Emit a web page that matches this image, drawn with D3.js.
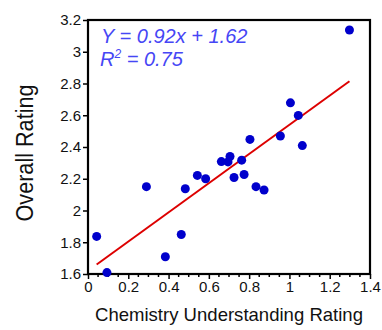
<!DOCTYPE html>
<html>
<head>
<meta charset="utf-8">
<script src="https://cdn.jsdelivr.net/npm/d3@7/dist/d3.min.js"></script>
<style>
  html, body { margin: 0; padding: 0; background: #fff; }
  svg { display: block; }
</style>
</head>
<body>
<svg id="chart" width="382" height="330"></svg>
<script>
// Chemistry understanding vs. overall rating
const chemistryRating = [0.043, 0.094, 0.29, 0.384, 0.463, 0.483, 0.543, 0.584, 0.662, 0.695, 0.705, 0.725, 0.763, 0.775, 0.804, 0.834, 0.874, 0.955, 1.005, 1.044, 1.064, 1.298];
const overallRating   = [1.837, 1.609, 2.15, 1.709, 1.849, 2.137, 2.221, 2.20, 2.308, 2.306, 2.34, 2.208, 2.317, 2.227, 2.448, 2.15, 2.129, 2.469, 2.678, 2.599, 2.409, 3.137];

// Least-squares fit as printed on the chart
const fitSlope = 0.92;
const fitIntercept = 1.62;
const fitR2 = 0.75;

const xTicks = [0, 0.2, 0.4, 0.6, 0.8, 1, 1.2, 1.4];
const yTicks = [1.6, 1.8, 2, 2.2, 2.4, 2.6, 2.8, 3, 3.2];
const xTitle = "Chemistry Understanding Rating";
const yTitle = "Overall Rating";

const svg = d3.select("#chart");
const plot = { left: 88, right: 370, top: 20, bottom: 274 };

const x = d3.scaleLinear().domain([0, 1.4]).range([plot.left, plot.right]);
const y = d3.scaleLinear().domain([1.6, 3.2]).range([plot.bottom, plot.top]);

const tickFont = "'Liberation Sans', Arial, sans-serif";

// minor ticks on the x axis
const minorTicks = d3.range(0, 1.4001, 0.05).filter(v => !xTicks.some(t => Math.abs(t - v) < 1e-6));
svg.append("g")
  .attr("transform", `translate(0,${plot.bottom})`)
  .selectAll("line").data(minorTicks).join("line")
  .attr("x1", d => x(d)).attr("x2", d => x(d))
  .attr("y1", 0).attr("y2", 3)
  .attr("stroke", "#000").attr("stroke-width", 1.5);

// x axis
const gx = svg.append("g")
  .attr("transform", `translate(0,${plot.bottom})`)
  .call(d3.axisBottom(x).tickValues(xTicks).tickSize(5).tickPadding(2).tickFormat(d3.format("~g")));
gx.select(".domain").remove();
gx.selectAll(".tick line").attr("stroke", "#000").attr("stroke-width", 1.5);
gx.selectAll(".tick text").attr("font-family", tickFont).attr("font-size", 15).attr("fill", "#111");

// y axis
const gy = svg.append("g")
  .attr("transform", `translate(${plot.left},0)`)
  .call(d3.axisLeft(y).tickValues(yTicks).tickSize(5).tickPadding(2).tickFormat(d3.format("~g")));
gy.select(".domain").remove();
gy.selectAll(".tick line").attr("stroke", "#000").attr("stroke-width", 1.5);
gy.selectAll(".tick text").attr("font-family", tickFont).attr("font-size", 15).attr("fill", "#111");

// plot frame
svg.append("rect")
  .attr("x", plot.left).attr("y", plot.top)
  .attr("width", plot.right - plot.left).attr("height", plot.bottom - plot.top)
  .attr("fill", "none").attr("stroke", "#000").attr("stroke-width", 2.2);

// regression line over the data range
const [xMin, xMax] = d3.extent(chemistryRating);
svg.append("line")
  .attr("x1", x(xMin)).attr("y1", y(fitSlope * xMin + fitIntercept))
  .attr("x2", x(xMax)).attr("y2", y(fitSlope * xMax + fitIntercept))
  .attr("stroke", "#dd0000").attr("stroke-width", 2);

// data points
svg.append("g")
  .selectAll("circle").data(chemistryRating.map((v, i) => [v, overallRating[i]])).join("circle")
  .attr("cx", d => x(d[0])).attr("cy", d => y(d[1]))
  .attr("r", 4.5).attr("fill", "#0000cc");

// fit equation
const eq = svg.append("g")
  .attr("font-family", "'Comic Sans MS', 'Liberation Sans', Arial, sans-serif")
  .attr("font-style", "italic").attr("font-size", 20).attr("fill", "#4646f5");
eq.append("text").attr("x", 101).attr("y", 43)
  .text(`Y = ${fitSlope}x + ${fitIntercept}`);
const r2 = eq.append("text").attr("x", 100).attr("y", 66);
r2.append("tspan").text("R");
r2.append("tspan").attr("font-size", 12).attr("dy", -8).text("2");
r2.append("tspan").attr("dy", 8).text(` = ${fitR2}`);

// axis titles
svg.append("text")
  .attr("x", 229).attr("y", 321)
  .attr("text-anchor", "middle")
  .attr("font-family", tickFont).attr("font-size", 19)
  .attr("textLength", 268).attr("lengthAdjust", "spacingAndGlyphs")
  .attr("fill", "#111")
  .text(xTitle);

svg.append("text")
  .attr("transform", "translate(33,153) rotate(-90)")
  .attr("text-anchor", "middle")
  .attr("font-family", tickFont).attr("font-size", 23)
  .attr("textLength", 137).attr("lengthAdjust", "spacingAndGlyphs")
  .attr("fill", "#111")
  .text(yTitle);
</script>
</body>
</html>
